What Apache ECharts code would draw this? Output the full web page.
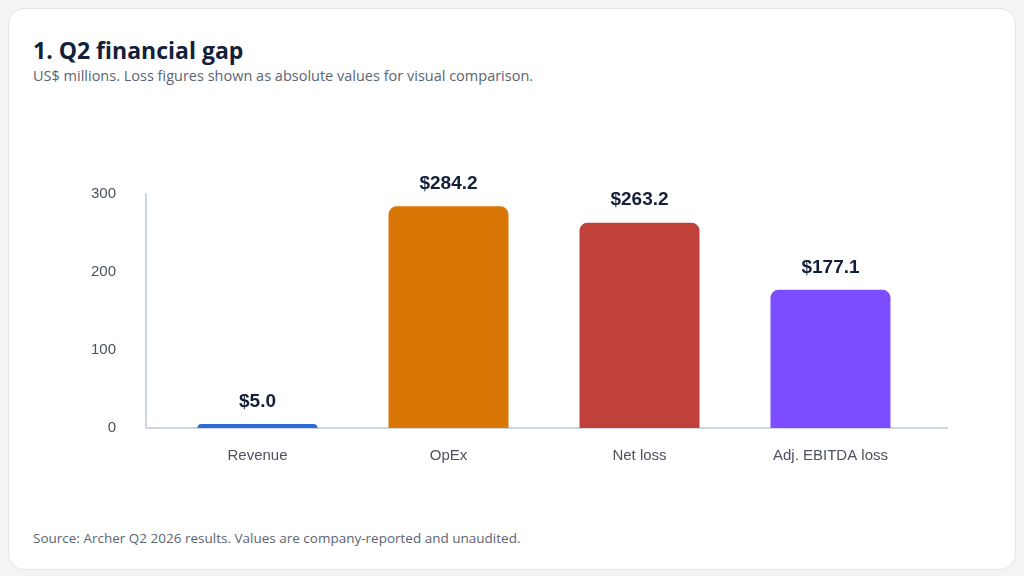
<!DOCTYPE html>
<html>
<head>
<meta charset="UTF-8">
<title>Q2 financial gap</title>
<script src="https://cdn.jsdelivr.net/npm/echarts@6/dist/echarts.min.js"></script>
<style>
  html, body { margin:0; padding:0; background:#f3f4f6; width:1024px; height:576px; overflow:hidden; }
  .card { position:absolute; left:8px; top:8px; width:1006px; height:560px; background:#fff;
          border:1px solid #e2e5ea; border-radius:16px; }
  .title { position:absolute; left:24px; top:25px; font:bold 23px "Open Sans", "Noto Sans", sans-serif; color:#13203a; }
  .sub { position:absolute; left:24px; top:57px; font:14.5px "Open Sans", "Noto Sans", sans-serif; color:#5b6472; }
  .src { position:absolute; left:24px; top:520px; font:13.5px "Open Sans", "Noto Sans", sans-serif; color:#5b6472; }
  #main { position:absolute; left:0; top:0; width:1024px; height:576px; }
</style>
</head>
<body>
<div class="card">
  <div class="title">1. Q2 financial gap</div>
  <div class="sub">US$ millions. Loss figures shown as absolute values for visual comparison.</div>
  <div class="src">Source: Archer Q2 2026 results. Values are company-reported and unaudited.</div>
</div>
<div id="main"></div>
<script>
  var categories = ['Revenue', 'OpEx', 'Net loss', 'Adj. EBITDA loss'];
  var values = [5.0, 284.2, 263.2, 177.1];
  var colors = ['#2f6bd8', '#d97706', '#c0403a', '#7c4dff'];

  var chart = echarts.init(document.getElementById('main'));
  chart.setOption({
    animation: false,
    grid: { left: 162, right: 98, top: 194, bottom: 148 },
    graphic: [{
      type: 'line', z: 0,
      shape: { x1: 146, y1: 428, x2: 948, y2: 428 },
      style: { stroke: '#cfd6df', lineWidth: 2 }
    }],
    xAxis: {
      type: 'category',
      data: categories,
      axisLine: { show: false },
      axisTick: { show: false },
      axisLabel: { color: '#4b5260', fontSize: 15, margin: 20, fontFamily: 'Liberation Sans' }
    },
    yAxis: {
      type: 'value',
      min: 0, max: 300, interval: 100,
      offset: 16,
      axisLine: { show: true, lineStyle: { color: '#cfd6df', width: 2 } },
      splitLine: { show: false },
      axisLabel: { color: '#4b5260', fontSize: 15, margin: 30, fontFamily: 'Liberation Sans' }
    },
    series: [{
      type: 'bar',
      barWidth: 120,
      data: values.map(function (v, i) {
        return { value: v, itemStyle: { color: colors[i], borderRadius: [8, 8, 0, 0] } };
      }),
      label: {
        show: true, position: 'top', distance: 13,
        formatter: function (p) { return '$' + p.value.toFixed(1); },
        color: '#13203a', fontSize: 19, fontWeight: 'bold', fontFamily: 'Liberation Sans'
      }
    }]
  });
</script>
</body>
</html>
